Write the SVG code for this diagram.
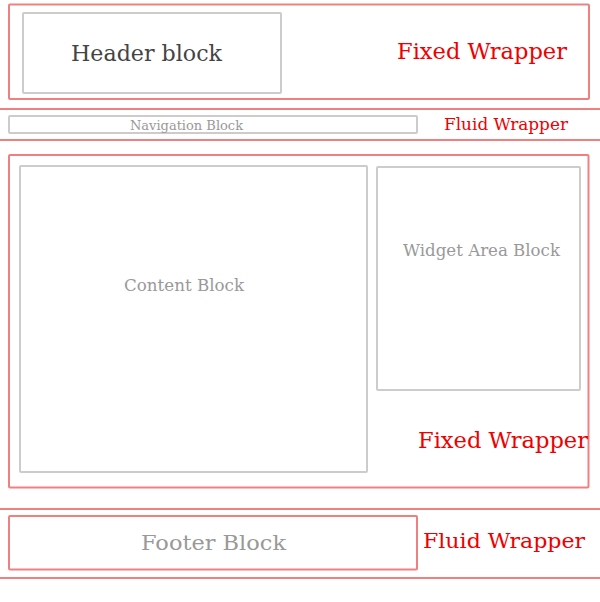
<svg xmlns="http://www.w3.org/2000/svg" width="600" height="602" viewBox="0 0 600 602">
<style>
.wrap{fill:none;stroke:#f08080;stroke-width:2}
.blk{fill:none;stroke:#cccccc;stroke-width:2}
.line{stroke:#f08080;stroke-width:2}
text{font-family:"DejaVu Serif","Liberation Serif",serif}
.red{fill:#ee0000}
.gray{fill:#999999}
.dark{fill:#444444}
</style>
<rect width="600" height="602" fill="#ffffff"/>
<g id="fixed-wrapper-top">
<rect class="wrap" x="9" y="4.5" width="580" height="94.5" rx="1"/>
<text class="red" x="397" y="59" font-size="22" textLength="170" lengthAdjust="spacingAndGlyphs">Fixed Wrapper</text>
</g>
<g id="header-block">
<rect class="blk" x="23" y="13" width="258" height="80" rx="1"/>
<text class="dark" x="71" y="61" font-size="22" textLength="151" lengthAdjust="spacingAndGlyphs">Header block</text>
</g>
<g id="fluid-wrapper-nav">
<line class="line" x1="0" y1="109" x2="600" y2="109"/>
<line class="line" x1="0" y1="140" x2="600" y2="140"/>
<text class="red" x="444" y="130" font-size="16" textLength="124" lengthAdjust="spacingAndGlyphs">Fluid Wrapper</text>
</g>
<g id="navigation-block">
<rect class="blk" x="9" y="116" width="408" height="17" rx="1"/>
<text class="gray" x="130" y="130" font-size="13" textLength="113" lengthAdjust="spacingAndGlyphs">Navigation Block</text>
</g>
<g id="fixed-wrapper-middle">
<rect class="wrap" x="9" y="155" width="579.5" height="332.5" rx="1"/>
<text class="red" x="418" y="448" font-size="22" textLength="170" lengthAdjust="spacingAndGlyphs">Fixed Wrapper</text>
</g>
<g id="content-block">
<rect class="blk" x="20" y="166" width="347" height="306" rx="1"/>
<text class="gray" x="124" y="291" font-size="16" textLength="120" lengthAdjust="spacingAndGlyphs">Content Block</text>
</g>
<g id="widget-area-block">
<rect class="blk" x="377" y="167" width="203" height="223" rx="1"/>
<text class="gray" x="403" y="256" font-size="16" textLength="157" lengthAdjust="spacingAndGlyphs">Widget Area Block</text>
</g>
<g id="fluid-wrapper-footer">
<line class="line" x1="0" y1="509" x2="600" y2="509"/>
<line class="line" x1="0" y1="578" x2="600" y2="578"/>
<text class="red" x="423" y="548" font-size="21" textLength="162" lengthAdjust="spacingAndGlyphs">Fluid Wrapper</text>
</g>
<g id="footer-block">
<rect class="wrap" x="9" y="516" width="408" height="53.5" rx="1"/>
<text class="gray" x="141" y="550" font-size="21" textLength="145" lengthAdjust="spacingAndGlyphs">Footer Block</text>
</g>
</svg>
